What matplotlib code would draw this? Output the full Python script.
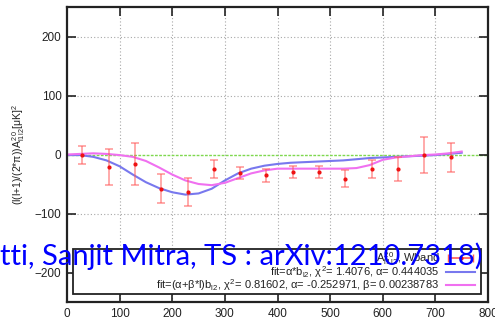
import matplotlib
matplotlib.use('Agg')
from matplotlib import pyplot as plt
from matplotlib.patches import Rectangle
from matplotlib.lines import Line2D

# binned A^{20}_{l1 l2} estimates (Wband)
ell = [29, 79, 129, 179, 229, 279, 329, 379, 429, 479, 529, 579, 629, 679, 729]
amp = [-1, -21, -16, -58, -64, -25, -31, -35, -30, -30, -41, -25, -25, -1, -5]
amp_err = [15, 30, 35, 25, 24, 15, 10, 11, 10, 10, 14, 15, 20, 30, 24]

# fit curves, sampled along l
fit_l = [0, 25, 50, 75, 100, 125, 150, 175, 200, 225, 250, 275, 300, 325, 350, 375,
         400, 425, 450, 475, 500, 525, 550, 575, 600, 625, 650, 675, 700, 725, 750]
fit_a = [-1, -1, -4, -10, -20, -34, -47, -57, -64, -68, -66, -58, -44, -32, -24, -19,
         -16, -14, -13, -12, -11, -10, -8, -6, -5, -4, -3, -2, -1, 1, 3]
fit_ab = [0, 1, 2, 1, -1, -4, -11, -22, -34, -44, -50, -52, -48, -40, -32, -27,
          -24, -24, -24, -24, -24, -24, -23, -18, -9, -5, -3, -1, 0, 2, 5]

xticks = [0, 100, 200, 300, 400, 500, 600, 700, 800]
yticks = [-200, -100, 0, 100, 200]

leg_labels = [r'A$^{2\,0}_{l1\,l2}$, Wband',
              r'fit=$\alpha$*b$_{l2}$, $\chi^2$= 1.4076, $\alpha$= 0.444035',
              r'fit=($\alpha$+$\beta$*l)b$_{l2}$, $\chi^2$= 0.81602, $\alpha$= -0.252971, $\beta$= 0.00238783']

plt.rcParams['font.family'] = ['Liberation Sans', 'DejaVu Sans']
plt.rcParams['mathtext.fontset'] = 'custom'
plt.rcParams['mathtext.rm'] = 'Liberation Sans'
plt.rcParams['mathtext.it'] = 'Liberation Sans'

fig = plt.figure(figsize=(4.95, 3.23), dpi=100)
ax = fig.add_axes([67 / 495, 21 / 323, 421 / 495, 295 / 323])

ax.set_xlim(0, 800)
ax.set_ylim(-250, 250)
ax.set_xticks(xticks)
ax.set_yticks(yticks)
ax.tick_params(direction='in', length=6.5, width=1.2, top=True, right=True,
               labelsize=8.5, pad=4, colors='#222222', labelcolor='#222222')
for s in ax.spines.values():
    s.set_linewidth(1.6)
    s.set_color('#222222')

for x in xticks[1:-1]:
    ax.axvline(x, color='#a8a8a8', lw=0.8, ls=(0, (1, 2)), zorder=0)
for y in yticks:
    if y != 0:
        ax.axhline(y, color='#a8a8a8', lw=0.8, ls=(0, (1, 2)), zorder=0)
ax.axhline(0, color='#7fd84f', lw=1.0, ls=(0, (2, 1)), zorder=1)

ax.errorbar(ell, amp, yerr=amp_err, fmt='none', ecolor='#ff5a5a', alpha=0.6,
            elinewidth=1.2, capsize=3, capthick=1.2, zorder=3)
ax.plot(ell, amp, 'o', color='#ee1111', ms=2, zorder=4)
ax.plot(fit_l, fit_a, color='#7878ee', lw=1.5, zorder=2)
ax.plot(fit_l, fit_ab, color='#f070f0', lw=1.5, zorder=2)

ax.set_ylabel(r'(l(l+1)/(2*$\pi$))A$^{2\,0}_{l1\,l2}$[$\mu$K]$^2$', fontsize=7.5,
              color='#222222')
ax.yaxis.set_label_coords(-0.095, 0.5)

# gnuplot-style key: text right aligned, samples on the right
ax.add_patch(Rectangle((0.014, 0.027), 0.969, 0.153, transform=ax.transAxes,
                       facecolor='white', edgecolor='#222222', lw=1.3, zorder=5))
rows_y = [0.148, 0.103, 0.058]
tx = 0.885
for lab, ry in zip(leg_labels, rows_y):
    ax.text(tx, ry, lab, transform=ax.transAxes, ha='right', va='center',
            fontsize=8, color='#222222', zorder=6)
ax.errorbar([0.935], [rows_y[0]], xerr=[0.03], fmt='o', color='#ee1111', ms=2,
            ecolor='#ff5a5a', elinewidth=1.2, capsize=3, transform=ax.transAxes,
            zorder=6, clip_on=False)
ax.add_line(Line2D([0.9, 0.97], [rows_y[1]] * 2, color='#7878ee', lw=1.5,
                   transform=ax.transAxes, zorder=6))
ax.add_line(Line2D([0.9, 0.97], [rows_y[2]] * 2, color='#f070f0', lw=1.5,
                   transform=ax.transAxes, zorder=6))

fig.text(0.0, (323 - 265) / 323, 'tti, Sanjit Mitra, TS : arXiv:1210.7318)',
         fontsize=21, color='#0000ff', ha='left', va='baseline',
         family=['Lato', 'DejaVu Sans'], zorder=10)

fig.savefig('out.png', dpi=100)
